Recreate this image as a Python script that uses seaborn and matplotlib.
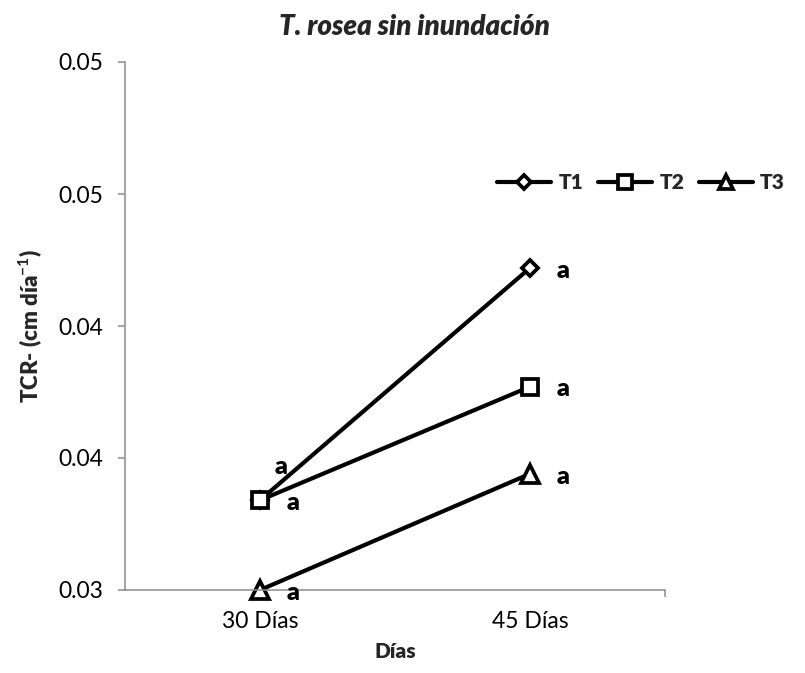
import matplotlib
matplotlib.use("Agg")
import matplotlib.pyplot as plt
from matplotlib.lines import Line2D
import pandas as pd
import seaborn as sns

# Data: relative growth rate (TCR) per treatment at each sampling day
dias = ["30 Días", "45 Días"]
tratamientos = ["T1", "T2", "T3"]
t1 = [0.0334, 0.0422]
t2 = [0.0334, 0.0377]
t3 = [0.0300, 0.0344]
letras_t1 = ["a", "a"]
letras_t2 = ["a", "a"]
letras_t3 = ["a", "a"]
y_ticks = [0.030, 0.035, 0.040, 0.045, 0.050]
y_tick_labels = ["0.03", "0.04", "0.04", "0.05", "0.05"]

valores = {"T1": t1, "T2": t2, "T3": t3}
letras = {"T1": letras_t1, "T2": letras_t2, "T3": letras_t3}

df = pd.DataFrame(
    [(t, d, v) for t in tratamientos for d, v in zip(dias, valores[t])],
    columns=["Tratamiento", "Dia", "TCR"],
)

sns.set_theme(style="white")
plt.rcParams["font.family"] = ["Lato", "DejaVu Sans"]
plt.rcParams["mathtext.fontset"] = "custom"
plt.rcParams["mathtext.rm"] = "Lato"
plt.rcParams["mathtext.bf"] = "Lato:bold"

fig = plt.figure(figsize=(8.05, 6.73), dpi=100)
ax = fig.add_axes([125 / 805, 83 / 673, 540 / 805, 528 / 673])

estilos = {
    "T1": dict(marker="D", markersize=8.5),
    "T2": dict(marker="s", markersize=12),
    "T3": dict(marker="^", markersize=12.5),
}
comun = dict(color="black", linewidth=3.0, markerfacecolor="white",
             markeredgecolor="black", markeredgewidth=2.7)

for t in tratamientos:
    sub = df[df["Tratamiento"] == t]
    sns.lineplot(data=sub, x="Dia", y="TCR", ax=ax, errorbar=None,
                 legend=False, clip_on=False, **comun, **estilos[t])

# Significance letters next to each point
desplazamientos = {
    "T1": [(15, 24), (24, -2)],
    "T2": [(24, -2), (24, -2)],
    "T3": [(24, -2), (24, -2)],
}
for t in tratamientos:
    for i, (v, l) in enumerate(zip(valores[t], letras[t])):
        ax.annotate(l, (i, v), xytext=desplazamientos[t][i],
                    textcoords="offset points", ha="center", va="center",
                    fontsize=18, fontweight="heavy", color="black",
                    annotation_clip=False)

# Axes styling
gris = "#8c8c8c"
ax.set_xlim(-0.5, 1.5)
ax.set_ylim(0.030, 0.050)
ax.set_yticks(y_ticks)
ax.set_yticklabels(y_tick_labels)
ax.set_xticks([0, 1])
ax.set_xticklabels(dias)
ax.set_xticks([1, 1.5], minor=True)
for s in ["top", "right"]:
    ax.spines[s].set_visible(False)
for s in ["left", "bottom"]:
    ax.spines[s].set_color(gris)
    ax.spines[s].set_linewidth(1.1)
ax.tick_params(axis="y", which="major", direction="out", length=5,
               width=1.1, color=gris, left=True, pad=11, labelsize=16.5,
               labelcolor="black")
ax.tick_params(axis="x", which="major", length=0, pad=15, labelsize=16.5,
               labelcolor="black")
ax.tick_params(axis="x", which="minor", direction="out", length=5,
               width=1.1, color=gris, bottom=True)
ax.grid(False)

ax.set_xlabel("Días", fontsize=15, fontweight="heavy", labelpad=7)
ax.set_ylabel("TCR- (cm día$^{\\mathbf{-1}}$)", fontsize=16,
              fontweight="heavy", labelpad=10)

fig.text(414 / 805, 1 - 27 / 673, "T. rosea sin inundación", ha="center",
         va="center", fontsize=20, fontweight="heavy", style="italic")

handles = [Line2D([], [], **comun, **estilos[t]) for t in tratamientos]
for h in handles:
    h.set_markersize(h.get_markersize() * 0.85)
fig.legend(handles, tratamientos, loc="center left",
           bbox_to_anchor=(497 / 805, 1 - 183 / 673), ncol=3, frameon=False,
           handlelength=2.6, handletextpad=0.35, columnspacing=0.7,
           borderpad=0, borderaxespad=0,
           prop={"weight": "heavy", "size": 15})

fig.savefig("out.png", dpi=100, facecolor="white")
